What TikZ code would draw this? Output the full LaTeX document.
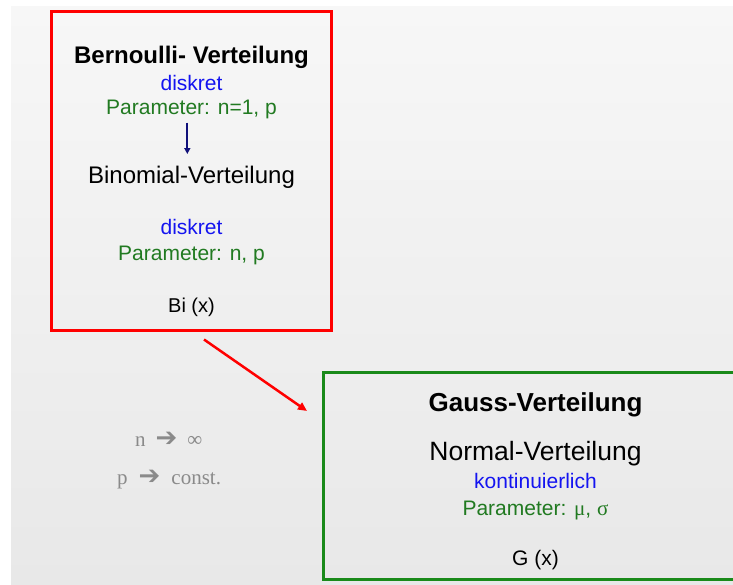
\documentclass[tikz,border=0pt]{standalone}
\usepackage{fontspec}
\setmainfont{Liberation Sans}
\newfontfamily\serifface{Liberation Serif}
\newfontfamily\symface{DejaVu Sans}
\usetikzlibrary{arrows.meta}

\definecolor{bgtop}{HTML}{F7F7F7}
\definecolor{bgbottom}{HTML}{E8E8E8}
\definecolor{boxred}{HTML}{FF0000}
\definecolor{boxgreen}{HTML}{1A8A1A}
\definecolor{txtgreen}{HTML}{217A21}
\definecolor{txtblue}{HTML}{1414F0}
\definecolor{navy}{HTML}{10107A}
\definecolor{limitgrey}{HTML}{8A8A8A}

\newcommand{\heavyarrow}{{\symface\fontsize{26}{26}\selectfont ➔}}

\tikzset{
  txt/.style={anchor=base, inner sep=0pt, font=\fontsize{#1}{#1}\selectfont},
  boldtxt/.style={anchor=base, inner sep=0pt, font=\fontsize{#1}{#1}\selectfont\bfseries},
  bluetxt/.style={txt=#1, text=txtblue},
  greentxt/.style={txt=#1, text=txtgreen},
  limittxt/.style={anchor=base west, inner sep=0pt, text=limitgrey,
                   font=\fontsize{21}{21}\selectfont\serifface},
}

\begin{document}
\begin{tikzpicture}[x=1pt, y=-1pt]
  % page and shaded panel
  \useasboundingbox (0,0) rectangle (733,584);
  \fill[white] (0,0) rectangle (733,584);
  \shade[top color=bgtop, bottom color=bgbottom] (11,6) rectangle (733,584);

  % Bernoulli / binomial box
  \draw[boxred, line width=3pt] (51.5,11.5) rectangle (331.5,330.5);
  \node[boldtxt=24]  (bern)   at (191.5,63.5) {Bernoulli- Verteilung};
  \node[bluetxt=21]  (disk1)  at (191.5,90)   {diskret};
  \node[greentxt=21] (par1)   at (191.5,114)  {Parameter: n=1, p};
  \node[txt=24]      (binom)  at (191.5,183.5){Binomial-Verteilung};
  \node[bluetxt=21]  (disk2)  at (191.5,234)  {diskret};
  \node[greentxt=21] (par2)   at (191.5,260)  {Parameter: n, p};
  \node[txt=20]      (bi)     at (191.5,312.5){Bi (x)};
  \coordinate (bstart) at (187.3,122.5);
  \coordinate (bend)   at (187.3,154);
  \draw[navy, line width=2pt, -{Triangle[length=6pt,width=6pt]}] (bstart) -- (bend);

  % limit transition
  \coordinate (rstart) at (204,339.5);
  \coordinate (rend)   at (307,411);
  \draw[boxred, line width=2.5pt, -{Triangle[length=9pt,width=8pt]}] (rstart) -- (rend);
  \node[limittxt] (lim1) at (135,446)
    {n\hspace{10pt}\heavyarrow\hspace{10pt}∞};
  \node[limittxt] (lim2) at (117,484)
    {p\hspace{11pt}\heavyarrow\hspace{11pt}const.};

  % Gauss / normal box
  \draw[boxgreen, line width=3pt] (323,372) rectangle (760,579);
  \node[boldtxt=26]  (gauss)  at (535.5,411.7) {Gauss-Verteilung};
  \node[txt=26.5]    (normal) at (535.5,460.7) {Normal-Verteilung};
  \node[bluetxt=21]  (kont)   at (535.5,488.3) {kontinuierlich};
  \node[greentxt=21] (par3)   at (535.5,515)
    {Parameter: {\serifface μ}, {\serifface σ}};
  \node[txt=21]      (gx)     at (535.5,565)   {G (x)};
\end{tikzpicture}
\end{document}
